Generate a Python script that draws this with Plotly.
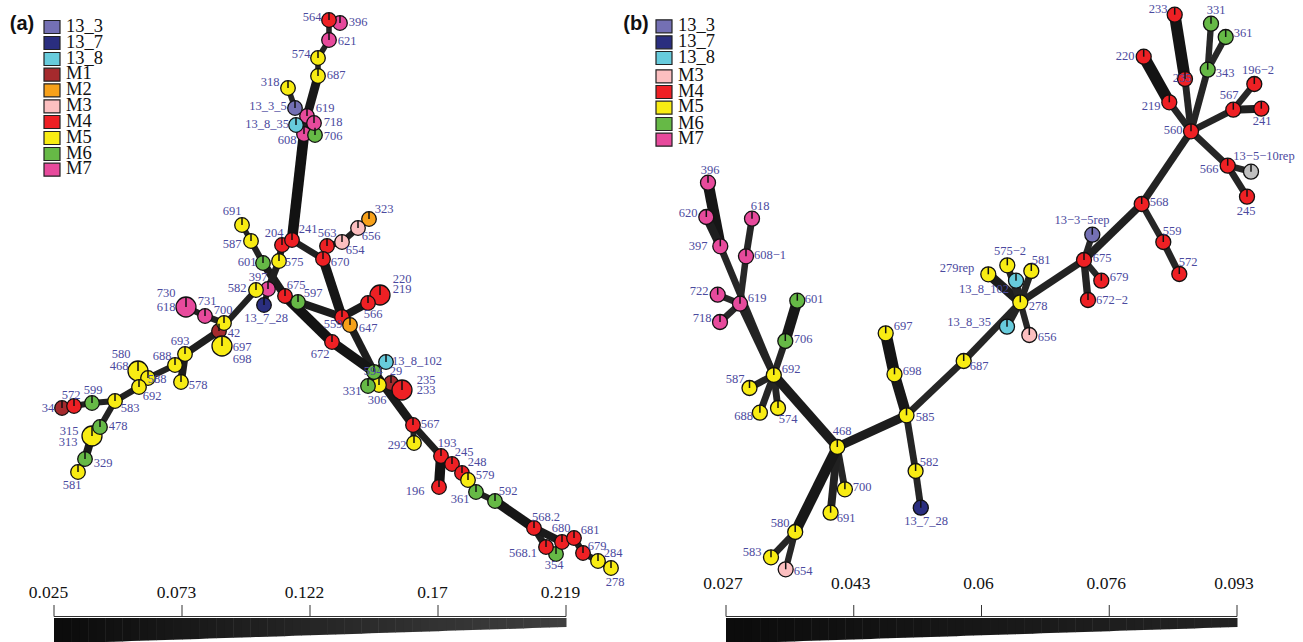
import plotly.graph_objects as go

GROUP_COLORS = {"13_3": "#7470b4", "13_7": "#2a2e7f", "13_8": "#67cbdc", "M1": "#a52a2d", "M2": "#f7a11a",
                "M3": "#fcbfc0", "M4": "#ee2024", "M5": "#f8ec13", "M6": "#66b946", "M7": "#e74a9c", "NA": "#c0c0c0"}
LABEL_COLOR = "#4b4a9e"
SERIF = "Liberation Serif, Times New Roman, serif"

# ---------- Panel (a) nodes ----------
a_id = ["396","564","621","574","687","318","619","608","13_3_5","13_8_35","706","718",
        "691","587","204","241","323","656","654","563","670","601","575","397","582","13_7_28",
        "675","597","220","566","559","647","672","618","731","42","697","700","693","688","578",
        "580","588","692","583","34","572","599","315","478","581","329",
        "13_8_102","29","306","331","594","235","292","567","196","193","245","248","361","579","592",
        "568.2","354","568.1","680","681","678","679","284"]
a_x = [340,329,329,318,318,288,307,304,295,296,315,314,
       242,251,282,292,369,358,342,327,323,263,279,268,256,264,
       285,298,380,368,342,350,332,186,205,219,222,224,185,175,181,
       138,148,139,115,62,74,92,92,100,78,85,
       386,391,379,368,374,402,414,413,439,441,452,462,476,468,495,
       534,556,546,562,574,583,598,611]
a_y = [23,20,40,58,76,88,116,134,108,125,135,123,
       225,241,245,240,219,228,242,246,259,263,261,289,290,305,
       296,302,295,303,317,325,342,307,316,331,346,323,354,365,382,
       371,378,387,401,408,406,403,436,427,472,459,
       362,383,385,386,372,390,443,425,487,456,464,473,492,480,501,
       528,554,547,542,538,553,561,568]
a_group = ["M7","M4","M7","M5","M5","M5","M7","M7","13_3","13_8","M6","M7",
           "M5","M5","M4","M4","M2","M3","M3","M4","M4","M6","M5","M7","M5","13_7",
           "M4","M6","M4","M4","M4","M2","M4","M7","M7","M1","M5","M5","M5","M5","M5",
           "M5","M5","M5","M5","M1","M4","M6","M5","M6","M5","M6",
           "13_8","M1","M5","M6","M6","M4","M5","M4","M4","M4","M4","M4","M6","M5","M6",
           "M4","M6","M4","M4","M4","M4","M5","M5"]
a_big = {"220", "618", "697", "580", "315", "235"}

a_edge_from = ["396","564","621","574","687","619","318","13_3_5","619","13_8_35","608","608",
               "241","241","670","563","654","656","670","691","587","601","204","575","397","397",
               "675","675","597","559","566","559","647","672","582","700","700","731","42","42","693","693",
               "688","588","588","692","583","599","572","583","478","315","329",
               "594","594","594","306","29","594","567","567","193","193","245","248","579","361","592",
               "568.2","568.2","680","680","681","678","679"]
a_edge_to = ["564","621","574","687","619","608","13_3_5","619","718","608","706","241",
             "204","670","563","654","656","323","559","587","601","675","575","397","582","13_7_28",
             "672","597","559","566","220","647","594","594","42","42","731","618","697","693","688","578",
             "588","580","692","583","599","572","34","478","315","329","581",
             "13_8_102","331","306","29","235","567","292","193","196","245","248","579","361","592","568.2",
             "568.1","680","354","681","678","679","284"]
a_edge_val = [.19,.19,.19,.19,.10,.15,.19,.19,.19,.19,.19,.05,
              .12,.16,.17,.17,.17,.19,.08,.19,.17,.12,.15,.15,.16,.18,
              .06,.15,.12,.12,.12,.15,.13,.07,.17,.17,.17,.17,.15,.14,.17,.13,
              .18,.18,.18,.16,.17,.18,.18,.17,.17,.12,.18,
              .18,.18,.18,.18,.18,.10,.18,.15,.06,.18,.18,.18,.18,.17,.08,
              .15,.12,.18,.18,.16,.17,.17]

a_label = ["564","396","621","574","687","318","13_3_5","619","718","13_8_35","608","706","691","587","204","241",
           "563","654","656","323","670","601","575","397","582","675","597","220","219","566","13_7_28","559","647",
           "672","730","618","731","700","42","697","698","693","688","578","580","468","588","692","583","599","572",
           "34","315","313","478","329","581","13_8_102","594","29","331","306","235","233","567","292","193","245",
           "248","579","196","361","592","568.2","568.1","680","681","354","679","284","278"]
a_label_x = [312,358,347,301,336,270,268,325,333,267,287,333,232,232,274,308,327,355,371,384,340,247,294,258,237,296,313,
             402,402,373,266,333,368,320,166,166,207,223,234,242,242,180,162,198,121,119,157,152,130,93,71,48,69,68,118,
             103,72,417,373,396,352,377,426,426,430,397,447,464,477,485,415,460,508,546,523,561,590,554,597,613,615]
a_label_y = [18,23,42,55,76,83,107,109,123,125,141,137,212,245,234,230,234,251,237,210,263,263,263,278,289,286,294,
             280,290,315,319,325,329,355,294,308,302,311,334,348,360,342,357,386,355,367,380,397,409,391,396,409,432,443,
             427,464,486,362,372,372,392,401,381,391,425,446,444,453,463,476,492,500,492,518,554,529,531,566,547,554,583]

# ---------- Panel (b) nodes ----------
b_id = ["396","620","397","618","608-1","722","619","718","601","697","706","692","587","688","574","468","585",
        "698","687","582","13_7_28","700","691","580","583","654","233","331","361","220","343","235","219",
        "196-2","567","241","560","13-5-10rep","566","245","568","13-3-5rep","559","675","572","679","672-2",
        "575-2","581","279rep","13_8_102","278","13_8_35","656"]
b_x = [708,706.3,720.3,752,746,717.7,740,720,797.3,885.7,785.3,773.8,749.5,759.9,778,837.3,906.5,
       894.5,963.7,915.6,920.8,844.9,830.6,795.2,771,785.7,1174.7,1211,1225.7,1143.7,1207.7,1185,1169.3,
       1254.3,1233.3,1261.3,1191,1251,1227.7,1247,1141.7,1092.3,1163.3,1084,1179.3,1101.3,1088,
       1007.3,1031.3,988.3,1016,1020.3,1007,1029.3]
b_y = [182.7,217,246.3,218.7,256.3,294.7,303.7,322,300.7,333.3,341,375,388,412.7,408,447,415.3,
       374.3,361,471,507.7,489.3,512.7,532,557.3,569.3,14.7,23.7,37,56.7,69.7,79,102.3,
       84,109.7,108.7,131.3,171.7,165.7,196.7,204,234.7,242,260,274,280.7,300,
       265.3,271,274.3,280.7,302.3,326.7,335]
b_group = ["M7","M7","M7","M7","M7","M7","M7","M7","M6","M5","M6","M5","M5","M5","M5","M5","M5",
           "M5","M5","M5","13_7","M5","M5","M5","M5","M3","M4","M6","M6","M4","M6","M4","M4",
           "M4","M4","M4","M4","NA","M4","M4","M4","13_3","M4","M4","M4","M4","M4",
           "M5","M5","M5","13_8","M5","13_8","M3"]

b_edge_from = ["396","620","397","618","608-1","722","718","619","601","706","692","692","692","692","468","585","698",
               "585","585","582","468","468","468","580","580","687","278","278","278","278","278","278","278",
               "675","675","675","675","568","559","568","560","219","560","235","560","343","343","560","567","567",
               "560","566","566"]
b_edge_to = ["397","397","692","608-1","619","619","619","692","706","692","587","688","574","468","585","698","697",
             "687","582","13_7_28","700","691","580","583","654","278","279rep","575-2","581","13_8_102","13_8_35","656","675",
             "13-3-5rep","679","672-2","568","559","572","560","219","220","235","233","343","331","361","567","196-2","241",
             "566","13-5-10rep","245"]
b_edge_val = [.045,.07,.085,.085,.088,.088,.088,.08,.05,.085,.085,.085,.085,.06,.065,.05,.04,
              .085,.085,.085,.085,.075,.05,.085,.09,.085,.06,.085,.085,.085,.085,.09,.08,
              .09,.09,.08,.075,.088,.085,.08,.085,.04,.085,.04,.085,.09,.09,.085,.088,.075,
              .085,.088,.085]

b_label = ["396","620","397","618","608\u22121","722","619","718","601","697","706","692","587","688","574","468","585",
           "698","687","582","13_7_28","700","691","580","583","654","656","233","331","361","220","343","235","219",
           "196\u22122","567","241","560","566","13\u22125\u221210rep","245","568","13\u22123\u22125rep","559","675","572","679",
           "672\u22122","575\u22122","581","279rep","13_8_102","278","13_8_35"]
b_label_x = [710,688,698,760,770,699,757,702,814,903,803,791,735,743.6,788,842,925,912,979,929,926,862,846,780,752,803,1047,
             1158,1216,1243,1125,1225,1182,1151,1258,1229,1262,1173,1209,1264,1246,1159,1082,1172,1102,1188,1119,1112,1010,1041,957,984,1038,969]
b_label_y = [171,214,247,207,256,292,299,319,300,327,340,370,380,417,420,432,418,372,367,463,522,488,519,524,553,572,338,
             10,11,34,57,74,79,107,71,96,122,131,170,157,212,203,221,232,259,263,278,301,252,261,269,290,307,323]

# ---------- Legends and scales ----------
a_legend = ["13_3","13_7","13_8","M1","M2","M3","M4","M5","M6","M7"]
a_legend_y = [27,43,59,74.7,90.3,106.3,122,138,154,169.7]
b_legend = ["13_3","13_7","13_8","M3","M4","M5","M6","M7"]
b_legend_y = [26.3,42.3,58,76.3,92,107.7,124,139.7]
a_scale_vals = [0.025,0.0735,0.122,0.1705,0.219]
a_scale_text = ["0.025","0.073","0.122","0.17","0.219"]
b_scale_vals = [0.027,0.0435,0.06,0.0765,0.093]
b_scale_text = ["0.027","0.043","0.06","0.076","0.093"]

fig = go.Figure()
shapes = []

def draw_panel(ids, xs, ys, groups, big, e_from, e_to, e_val, vmin, vmax, wmax,
               labels, lx, ly, r_small, r_big):
    pos = {i: (x, y) for i, x, y in zip(ids, xs, ys)}
    for f, t, v in zip(e_from, e_to, e_val):
        frac = (v - vmin) / (vmax - vmin)
        w = wmax - frac * 7
        g = int(15 + frac * 26)
        fig.add_trace(go.Scatter(x=[pos[f][0], pos[t][0]], y=[pos[f][1], pos[t][1]], mode="lines",
                                 line=dict(color=f"rgb({g},{g},{g})", width=w), hoverinfo="skip", showlegend=False))
    sizes = [2 * (r_big if i in big else r_small) for i in ids]
    fig.add_trace(go.Scatter(x=xs, y=ys, mode="markers", hoverinfo="skip", showlegend=False,
                             marker=dict(size=sizes, color=[GROUP_COLORS[g] for g in groups],
                                         line=dict(color="#111111", width=1.3), opacity=1)))
    tx, ty = [], []
    for x, y, s in zip(xs, ys, sizes):
        tx += [x, x, None]
        ty += [y, y - s / 2, None]
    fig.add_trace(go.Scatter(x=tx, y=ty, mode="lines", line=dict(color="#111111", width=1.5),
                             hoverinfo="skip", showlegend=False))
    fig.add_trace(go.Scatter(x=lx, y=ly, mode="text", text=labels, textposition="middle center",
                             textfont=dict(family=SERIF, size=12.5, color=LABEL_COLOR),
                             hoverinfo="skip", showlegend=False))

def draw_legend(names, ys, x0, x1, tx):
    for n, y in zip(names, ys):
        shapes.append(dict(type="rect", x0=x0, x1=x1, y0=y - 6.5, y1=y + 6.5, fillcolor=GROUP_COLORS[n],
                           line=dict(color="#222222", width=1.2), layer="above"))
    fig.add_trace(go.Scatter(x=[tx] * len(names), y=ys, mode="text", text=names, textposition="middle right",
                             textfont=dict(family=SERIF, size=18.5, color="#111111"),
                             hoverinfo="skip", showlegend=False))

def draw_scale(vals, text, x0, x1, g_end, bottom_left, bottom_right, label_dx, label_y):
    vmin, vmax = vals[0], vals[-1]
    px = [x0 + (v - vmin) / (vmax - vmin) * (x1 - x0) for v in vals]
    n = 60
    for k in range(n):
        a, b = k / n, (k + 1) / n
        xa, xb = x0 + a * (x1 - x0), x0 + b * (x1 - x0) + 0.5
        ya = bottom_left + a * (bottom_right - bottom_left)
        yb = bottom_left + b * (bottom_right - bottom_left)
        g = int(12 + a * (g_end - 12))
        shapes.append(dict(type="path", path=f"M{xa},618 L{xb},618 L{xb},{yb} L{xa},{ya} Z",
                           fillcolor=f"rgb({g},{g},{g})", line=dict(width=0)))
    shapes.append(dict(type="line", x0=x0, x1=x1, y0=616.5, y1=616.5, line=dict(color="#333333", width=1)))
    for p in px:
        shapes.append(dict(type="line", x0=p, x1=p, y0=605, y1=616.5, line=dict(color="#333333", width=1)))
    fig.add_trace(go.Scatter(x=[p + label_dx for p in px], y=[label_y] * len(px), mode="text", text=text,
                             textposition="middle center",
                             textfont=dict(family=SERIF, size=17.5, color="#111111"),
                             hoverinfo="skip", showlegend=False))

draw_panel(a_id, a_x, a_y, a_group, a_big, a_edge_from, a_edge_to, a_edge_val, 0.025, 0.219, 11.5,
           a_label, a_label_x, a_label_y, 7.3, 10)
draw_panel(b_id, b_x, b_y, b_group, set(), b_edge_from, b_edge_to, b_edge_val, 0.027, 0.093, 13,
           b_label, b_label_x, b_label_y, 7.5, 7.5)
draw_legend(a_legend, a_legend_y, 44, 60, 66)
draw_legend(b_legend, b_legend_y, 656, 672, 678)
draw_scale(a_scale_vals, a_scale_text, 54, 566, 64, 643.6, 627, -5.5, 594)
draw_scale(b_scale_vals, b_scale_text, 726, 1237, 36, 643.6, 627, -3, 585)

fig.add_trace(go.Scatter(x=[22, 636], y=[25, 25], mode="text", text=["(a)", "(b)"], textposition="middle center",
                         textfont=dict(family="Liberation Sans, Arial, sans-serif", size=20, color="#111111", weight="bold"),
                         hoverinfo="skip", showlegend=False))

fig.update_layout(width=1303, height=642, margin=dict(l=0, r=0, t=0, b=0), autosize=False,
                  paper_bgcolor="white", plot_bgcolor="white", shapes=shapes, showlegend=False,
                  xaxis=dict(range=[0, 1303], visible=False, fixedrange=True),
                  yaxis=dict(range=[642, 0], visible=False, fixedrange=True))
fig.write_html("out.html", config={"displayModeBar": False},
               post_script="document.body.style.margin='0';document.body.style.overflow='hidden';")
